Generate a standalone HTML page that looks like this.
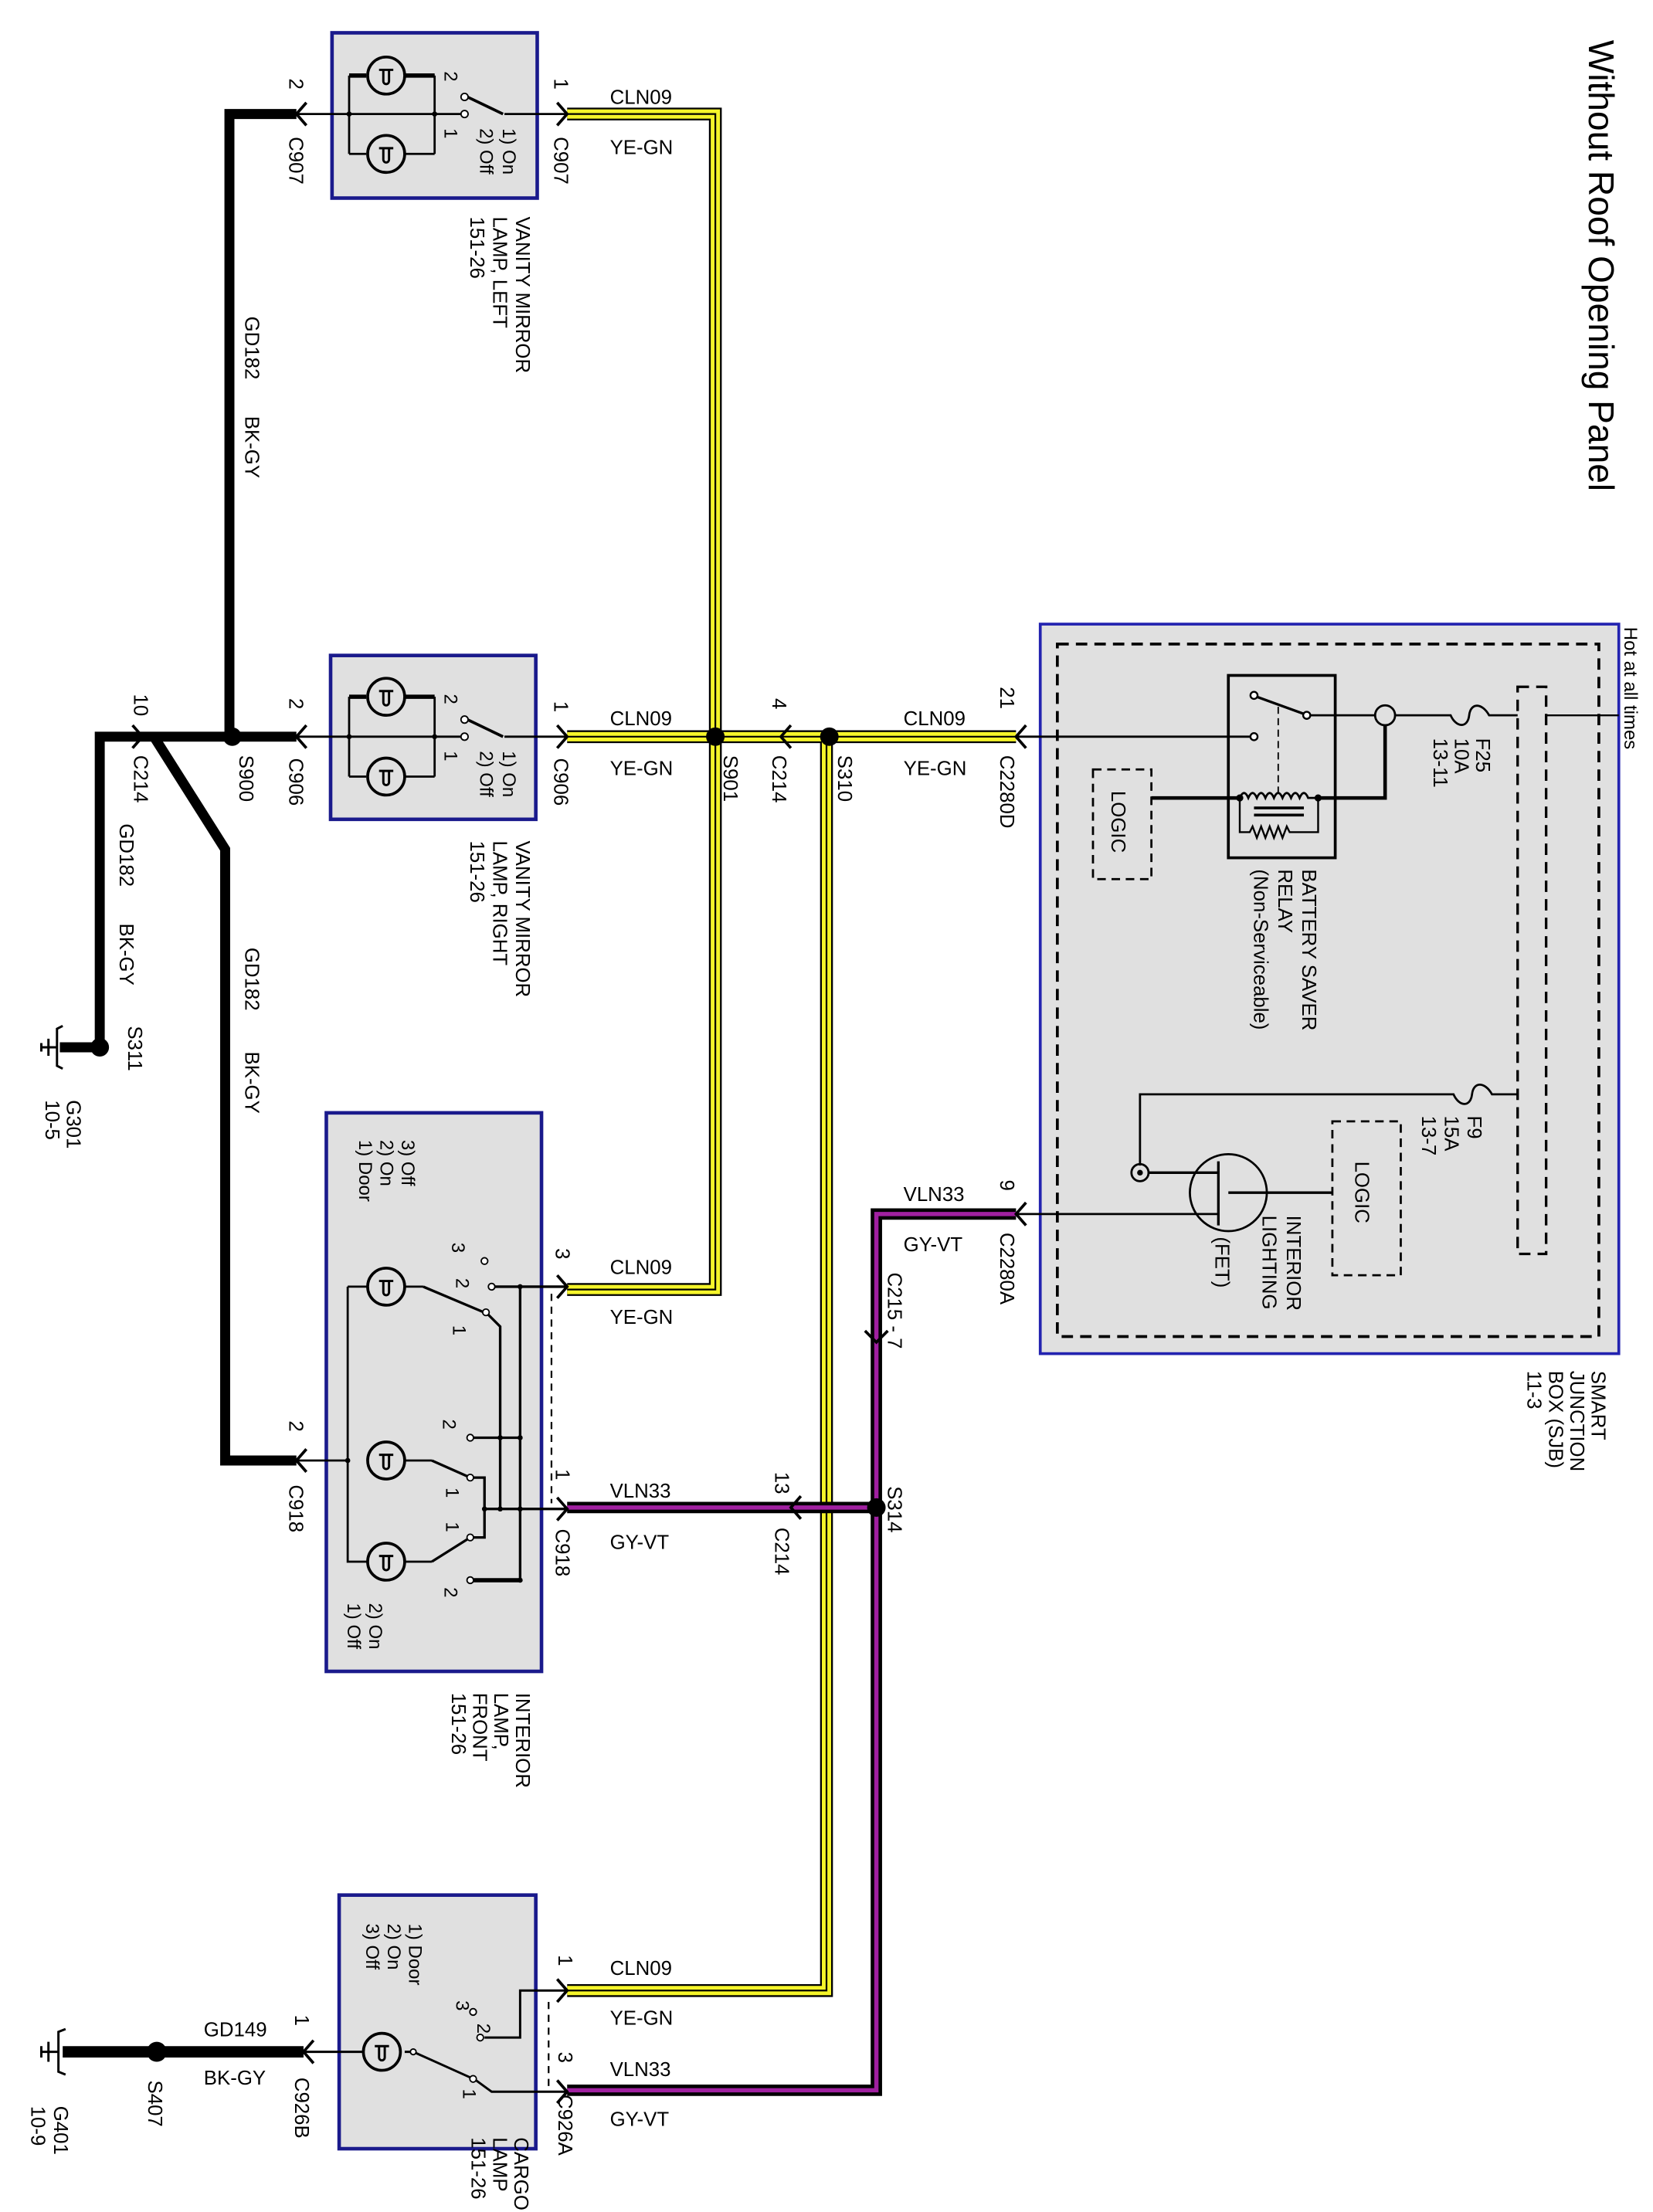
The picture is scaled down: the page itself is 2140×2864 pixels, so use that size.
<!DOCTYPE html>
<html><head><meta charset="utf-8"><style>
html,body{margin:0;padding:0;background:#fff}
svg{display:block}
text{font-family:"Liberation Sans",sans-serif;fill:#000}
.t{font-size:14px}
.s{font-size:13px}
.k{fill:none;stroke:#000}
</style></head><body>
<svg width="2140" height="2864" viewBox="0 0 1160 1552.4" xmlns="http://www.w3.org/2000/svg">
<defs>
<g id="lamp"><circle r="13" fill="none" stroke="#000" stroke-width="2"/><path d="M-5,-4 L5,-4 M-2,-4 L-2,4 M2,-4 L2,4 M-2,4 A2,2 0 0 0 2,4" fill="none" stroke="#000" stroke-width="1.6"/></g>
<g id="ar"><path d="M-7,-8 L0,0 L-7,8" fill="none" stroke="#000" stroke-width="2"/></g>
<g id="al"><path d="M7,-8 L0,0 L7,8" fill="none" stroke="#000" stroke-width="2"/></g>
</defs>

<text font-size="25" transform="translate(1115,28) rotate(90)">Without Roof Opening Panel</text>

<rect x="730" y="438" width="406" height="512" fill="#e0e0e0" stroke="#2323b0" stroke-width="2"/>
<rect x="742" y="452" width="380" height="486" fill="none" stroke="#000" stroke-width="2" stroke-dasharray="8,5"/>
<text class="s" transform="translate(1140,440) rotate(90)">Hot at all times</text>
<line x1="1085" y1="502" x2="1136" y2="502" stroke="#000" stroke-width="1.3"/>
<rect x="1065" y="482" width="20" height="398" fill="none" stroke="#000" stroke-width="1.8" stroke-dasharray="8,5"/>
<path d="M1065,502 L1045,502 C1040,493 1032,493 1031,502 C1030,511 1022,511 1018,502 L979,502" class="k" stroke-width="1.5"/>
<text class="t" transform="translate(1036,518) rotate(90)">F25</text>
<text class="t" transform="translate(1021,518) rotate(90)">10A</text>
<text class="t" transform="translate(1006,518) rotate(90)">13-11</text>
<circle cx="972" cy="502" r="7" fill="none" stroke="#000" stroke-width="1.5"/>
<line x1="965" y1="502" x2="917" y2="502" stroke="#000" stroke-width="1.5"/>
<rect x="862" y="474" width="75" height="128" fill="none" stroke="#000" stroke-width="2"/>
<circle cx="880" cy="488" r="2.5" fill="#fff" stroke="#000" stroke-width="1.3"/>
<circle cx="880" cy="517" r="2.5" fill="#fff" stroke="#000" stroke-width="1.3"/>
<circle cx="917" cy="502" r="2.5" fill="#fff" stroke="#000" stroke-width="1.3"/>
<line x1="882" y1="489" x2="915" y2="501" stroke="#000" stroke-width="1.8"/>
<line x1="897" y1="496" x2="897" y2="558" stroke="#000" stroke-width="1" stroke-dasharray="5,3"/>
<path d="M808,560 L870,560 M925,560 L972,560 L972,509" class="k" stroke-width="2.5"/>
<path d="M870,560 q3,-7 6,0 q3,-7 6,0 q3,-7 6,0 q3,-7 6,0 q3,-7 6,0 q3,-7 6,0 q3,-7 6,0 q3,-7 6,0 L925,560" class="k" stroke-width="1.5"/>
<path d="M880,567 L915,567 M880,572 L915,572" class="k" stroke-width="2"/>
<path d="M870,560 L870,584 L877,584 l2,-4 l3,8 l3,-8 l3,8 l3,-8 l3,8 l3,-8 l3,8 l3,-8 l2,4 L925,584 L925,560" class="k" stroke-width="1.3"/>
<circle cx="870" cy="560" r="2.5" fill="#000"/><circle cx="925" cy="560" r="2.5" fill="#000"/>
<line x1="878" y1="517" x2="713" y2="517" stroke="#000" stroke-width="1.5"/>
<text class="t" transform="translate(914,610) rotate(90)">BATTERY SAVER</text>
<text class="t" transform="translate(897,610) rotate(90)">RELAY</text>
<text class="t" transform="translate(880,610) rotate(90)">(Non-Serviceable)</text>
<rect x="767" y="540" width="41" height="77" fill="none" stroke="#000" stroke-width="1.5" stroke-dasharray="6,4"/>
<text class="t" transform="translate(780,555) rotate(90)">LOGIC</text>
<path d="M1065,768 L1047,768 C1042,759 1034,759 1033,768 C1032,777 1024,777 1020,768 L800,768 L800,818" class="k" stroke-width="1.5"/>
<text class="t" transform="translate(1030,783) rotate(90)">F9</text>
<text class="t" transform="translate(1014,783) rotate(90)">15A</text>
<text class="t" transform="translate(998,783) rotate(90)">13-7</text>
<circle cx="800" cy="823" r="6" fill="none" stroke="#000" stroke-width="1.5"/>
<circle cx="800" cy="823" r="2" fill="#000"/>
<circle cx="862" cy="837" r="27" fill="none" stroke="#000" stroke-width="1.5"/>
<path d="M806,823 L855,823 M855,815 L855,860 M862,837 L935,837" class="k" stroke-width="1.8"/>
<line x1="855" y1="852" x2="713" y2="852" stroke="#000" stroke-width="1.5"/>
<rect x="935" y="787" width="48" height="108" fill="none" stroke="#000" stroke-width="1.5" stroke-dasharray="6,4"/>
<text class="t" transform="translate(951,815) rotate(90)">LOGIC</text>
<text class="t" transform="translate(903,853) rotate(90)">INTERIOR</text>
<text class="t" transform="translate(886,853) rotate(90)">LIGHTING</text>
<text class="t" transform="translate(853,868) rotate(90)">(FET)</text>
<text class="t" transform="translate(1117,962) rotate(90)">SMART</text>
<text class="t" transform="translate(1102,962) rotate(90)">JUNCTION</text>
<text class="t" transform="translate(1087,962) rotate(90)">BOX (SJB)</text>
<text class="t" transform="translate(1072,962) rotate(90)">11-3</text>

<path d="M208,80 L161,80 L161,517 L208,517 M161,517 L70,517 L70,735 L42,735 M108,517 L158,596 L158,1025 L208,1025" fill="none" stroke="#000" stroke-width="7" stroke-linejoin="miter"/>
<path d="M213,1440 L44,1440" stroke="#000" stroke-width="8"/>
<circle cx="163" cy="517" r="6.5" fill="#000"/>
<circle cx="70" cy="735" r="6.5" fill="#000"/>
<circle cx="110" cy="1440" r="7" fill="#000"/>
<path d="M44,720 L40,722 L40,748 L44,750 M34,729 L34,741 M29,732 L29,738 M40,735 L29,735" class="k" stroke-width="1.6"/>
<path d="M46,1424 L41,1426 L41,1454 L46,1456 M34,1433 L34,1447 M29,1436 L29,1444 M41,1440 L29,1440" class="k" stroke-width="1.6"/>
<text class="t" transform="translate(84,578) rotate(90)">GD182</text>
<text class="t" transform="translate(84,648) rotate(90)">BK-GY</text>
<text class="t" transform="translate(172,222) rotate(90)">GD182</text>
<text class="t" transform="translate(172,292) rotate(90)">BK-GY</text>
<text class="t" transform="translate(172,665) rotate(90)">GD182</text>
<text class="t" transform="translate(172,738) rotate(90)">BK-GY</text>
<text class="t" transform="translate(90,720) rotate(90)">S311</text>
<text class="t" transform="translate(47,772) rotate(90)">G301</text>
<text class="t" transform="translate(32,772) rotate(90)">10-5</text>
<text class="t" transform="translate(168,530) rotate(90)">S900</text>
<text class="t" transform="translate(94,487) rotate(90)">10</text>
<text class="t" transform="translate(94,530) rotate(90)">C214</text>
<use href="#ar" x="100" y="517"/>
<text class="t" x="143" y="1429">GD149</text>
<text class="t" x="143" y="1463">BK-GY</text>
<text class="t" transform="translate(104,1460) rotate(90)">S407</text>
<text class="t" transform="translate(38,1478) rotate(90)">G401</text>
<text class="t" transform="translate(22,1478) rotate(90)">10-9</text>

<g fill="none" stroke-linejoin="miter">
<path d="M398,80 L502,80 L502,905 L398,905 M398,517 L713,517 M580,517 L580,1397 L398,1397" stroke="#000" stroke-width="9"/>
<path d="M398,80 L502,80 L502,905 L398,905 M398,517 L713,517 M580,517 L580,1397 L398,1397" stroke="#f5f52a" stroke-width="6.5"/>
<path d="M398,80 L502,80 L502,905 L398,905 M398,517 L713,517 M580,517 L580,1397 L398,1397" stroke="#000" stroke-width="1.2"/>
<path d="M713,852 L615,852 L615,1467 L398,1467 M615,1058 L398,1058" stroke="#000" stroke-width="8"/>
<path d="M713,852 L615,852 L615,1467 L398,1467 M615,1058 L398,1058" stroke="#a020a0" stroke-width="3"/>
</g>
<circle cx="502" cy="517" r="6.5" fill="#000"/>
<circle cx="582" cy="517" r="6.5" fill="#000"/>
<circle cx="615" cy="1058" r="6.5" fill="#000"/>
<use href="#al" x="548" y="517"/>
<use href="#al" x="713" y="517"/>
<use href="#al" x="713" y="852"/>
<use href="#al" x="555" y="1058"/>
<path d="M607,934 L615,942 L623,934" fill="none" stroke="#000" stroke-width="2"/>

<text class="t" x="428" y="73">CLN09</text>
<text class="t" x="428" y="108">YE-GN</text>
<text class="t" x="428" y="509">CLN09</text>
<text class="t" x="428" y="544">YE-GN</text>
<text class="t" x="634" y="509">CLN09</text>
<text class="t" x="634" y="544">YE-GN</text>
<text class="t" x="428" y="894">CLN09</text>
<text class="t" x="428" y="929">YE-GN</text>
<text class="t" x="634" y="843">VLN33</text>
<text class="t" x="634" y="878">GY-VT</text>
<text class="t" x="428" y="1051">VLN33</text>
<text class="t" x="428" y="1087">GY-VT</text>
<text class="t" x="428" y="1386">CLN09</text>
<text class="t" x="428" y="1421">YE-GN</text>
<text class="t" x="428" y="1457">VLN33</text>
<text class="t" x="428" y="1492">GY-VT</text>
<text class="t" transform="translate(508,530) rotate(90)">S901</text>
<text class="t" transform="translate(588,530) rotate(90)">S310</text>
<text class="t" transform="translate(542,490) rotate(90)">4</text>
<text class="t" transform="translate(542,530) rotate(90)">C214</text>
<text class="t" transform="translate(702,482) rotate(90)">21</text>
<text class="t" transform="translate(702,530) rotate(90)">C2280D</text>
<text class="t" transform="translate(702,828) rotate(90)">9</text>
<text class="t" transform="translate(702,865) rotate(90)">C2280A</text>
<text class="t" transform="translate(623,893) rotate(90)">C215 - 7</text>
<text class="t" transform="translate(623,1043) rotate(90)">S314</text>
<text class="t" transform="translate(544,1033) rotate(90)">13</text>
<text class="t" transform="translate(544,1072) rotate(90)">C214</text>

<rect x="233" y="23" width="144" height="116" fill="#e0e0e0" stroke="#1a1a8c" stroke-width="2.5"/>
<g class="k" stroke-width="1.5">
<path d="M208,80 L305,80 M245,53 L245,108 M305,53 L305,108 M245,53 L257,53 M284,53 L305,53 M245,108 L257,108 M284,108 L305,108"/>
<path d="M305,80 L324,80 M354,80 L398,80"/>
<line x1="353" y1="80" x2="328" y2="68" stroke-width="2"/>
</g>
<path d="M245,53 L257,53 M284,53 L305,53" stroke="#000" stroke-width="3"/>
<circle cx="326" cy="80" r="2.5" fill="#fff" stroke="#000"/><circle cx="326" cy="68" r="2.5" fill="#fff" stroke="#000"/>
<circle cx="245" cy="80" r="1.8"/><circle cx="305" cy="80" r="1.8"/>
<use href="#lamp" x="271" y="53"/><use href="#lamp" x="271" y="108"/>
<use href="#al" x="208" y="80"/><use href="#ar" x="398" y="80"/>
<text class="t" transform="translate(203,55) rotate(90)">2</text>
<text class="t" transform="translate(203,96) rotate(90)">C907</text>
<text class="t" transform="translate(389,55) rotate(90)">1</text>
<text class="t" transform="translate(389,96) rotate(90)">C907</text>
<text class="s" transform="translate(312,50) rotate(90)">2</text>
<text class="s" transform="translate(312,90) rotate(90)">1</text>
<text class="s" transform="translate(353,90) rotate(90)">1) On</text>
<text class="s" transform="translate(337,90) rotate(90)">2) Off</text>
<text class="t" transform="translate(362,152) rotate(90)">VANITY MIRROR</text>
<text class="t" transform="translate(346,152) rotate(90)">LAMP, LEFT</text>
<text class="t" transform="translate(330,152) rotate(90)">151-26</text>

<rect x="232" y="460" width="144" height="115" fill="#e0e0e0" stroke="#1a1a8c" stroke-width="2.5"/>
<path d="M208,517 L305,517 M245,489 L245,545 M305,489 L305,545 M245,545 L257,545 M284,545 L305,545 M305,517 L324,517 M354,517 L398,517" class="k" stroke-width="1.5"/>
<path d="M245,489 L257,489 M284,489 L305,489" stroke="#000" stroke-width="3"/>
<line x1="353" y1="517" x2="328" y2="505" stroke="#000" stroke-width="2"/>
<circle cx="326" cy="517" r="2.5" fill="#fff" stroke="#000"/><circle cx="326" cy="505" r="2.5" fill="#fff" stroke="#000"/>
<circle cx="245" cy="517" r="1.8"/><circle cx="305" cy="517" r="1.8"/>
<use href="#lamp" x="271" y="489"/><use href="#lamp" x="271" y="545"/>
<use href="#al" x="208" y="517"/><use href="#ar" x="398" y="517"/>
<text class="t" transform="translate(203,490) rotate(90)">2</text>
<text class="t" transform="translate(203,532) rotate(90)">C906</text>
<text class="t" transform="translate(389,492) rotate(90)">1</text>
<text class="t" transform="translate(389,532) rotate(90)">C906</text>
<text class="s" transform="translate(312,487) rotate(90)">2</text>
<text class="s" transform="translate(312,527) rotate(90)">1</text>
<text class="s" transform="translate(353,527) rotate(90)">1) On</text>
<text class="s" transform="translate(337,527) rotate(90)">2) Off</text>
<text class="t" transform="translate(362,590) rotate(90)">VANITY MIRROR</text>
<text class="t" transform="translate(346,590) rotate(90)">LAMP, RIGHT</text>
<text class="t" transform="translate(330,590) rotate(90)">151-26</text>

<rect x="229" y="781" width="151" height="392" fill="#e0e0e0" stroke="#1a1a8c" stroke-width="2.5"/>
<text class="s" transform="translate(282,800) rotate(90)">3) Off</text>
<text class="s" transform="translate(267,800) rotate(90)">2) On</text>
<text class="s" transform="translate(252,800) rotate(90)">1) Door</text>
<text class="s" transform="translate(259,1125) rotate(90)">2) On</text>
<text class="s" transform="translate(244,1125) rotate(90)">1) Off</text>
<g class="k" stroke-width="1.5">
<path d="M208,1025 L244,1025 M244,903 L258,903 M244,903 L244,1096 L258,1096 M284,903 L297,903 M284,1025 L303,1025 M284,1096 L303,1096"/>
<path d="M297,903 L342,922 L351,931 L351,1059 M345,903 L398,903 M365,903 L365,1109 M330,1009 L365,1009 M303,1025 L330,1037 M330,1037 L340,1037 L340,1079 L330,1079 M303,1096 L330,1079 M340,1059 L398,1059" stroke-width="1.8"/>
<path d="M330,1109 L365,1109" stroke-width="3"/>
<line x1="387" y1="908" x2="387" y2="1055" stroke-dasharray="5,4" stroke-width="1.2"/>
</g>
<circle cx="340" cy="885" r="2.3" fill="#fff" stroke="#000"/>
<circle cx="345" cy="903" r="2.3" fill="#fff" stroke="#000"/>
<circle cx="341" cy="921" r="2.3" fill="#fff" stroke="#000"/>
<circle cx="330" cy="1009" r="2.3" fill="#fff" stroke="#000"/>
<circle cx="330" cy="1037" r="2.3" fill="#fff" stroke="#000"/>
<circle cx="330" cy="1079" r="2.3" fill="#fff" stroke="#000"/>
<circle cx="330" cy="1109" r="2.3" fill="#fff" stroke="#000"/>
<circle cx="244" cy="1025" r="1.8"/><circle cx="365" cy="903" r="1.8"/><circle cx="351" cy="1009" r="1.8"/><circle cx="365" cy="1009" r="1.8"/>
<circle cx="340" cy="1059" r="1.8"/><circle cx="351" cy="1059" r="1.8"/><circle cx="365" cy="1059" r="1.8"/><circle cx="365" cy="1109" r="1.8"/>
<use href="#lamp" x="271" y="903"/><use href="#lamp" x="271" y="1025"/><use href="#lamp" x="271" y="1096"/>
<text class="s" transform="translate(317,872) rotate(90)">3</text>
<text class="s" transform="translate(320,897) rotate(90)">2</text>
<text class="s" transform="translate(318,930) rotate(90)">1</text>
<text class="s" transform="translate(311,996) rotate(90)">2</text>
<text class="s" transform="translate(313,1044) rotate(90)">1</text>
<text class="s" transform="translate(313,1068) rotate(90)">1</text>
<text class="s" transform="translate(312,1114) rotate(90)">2</text>
<use href="#al" x="208" y="1025"/><use href="#ar" x="398" y="903"/><use href="#ar" x="398" y="1059"/>
<text class="t" transform="translate(203,997) rotate(90)">2</text>
<text class="t" transform="translate(203,1042) rotate(90)">C918</text>
<text class="t" transform="translate(390,876) rotate(90)">3</text>
<text class="t" transform="translate(390,1031) rotate(90)">1</text>
<text class="t" transform="translate(390,1073) rotate(90)">C918</text>
<text class="t" transform="translate(362,1188) rotate(90)">INTERIOR</text>
<text class="t" transform="translate(347,1188) rotate(90)">LAMP,</text>
<text class="t" transform="translate(332,1188) rotate(90)">FRONT</text>
<text class="t" transform="translate(317,1188) rotate(90)">151-26</text>

<rect x="238" y="1330" width="138" height="178" fill="#e0e0e0" stroke="#1a1a8c" stroke-width="2.5"/>
<text class="s" transform="translate(287,1350) rotate(90)">1) Door</text>
<text class="s" transform="translate(272,1350) rotate(90)">2) On</text>
<text class="s" transform="translate(257,1350) rotate(90)">3) Off</text>
<g class="k" stroke-width="1.6">
<path d="M213,1440 L255,1440 M284,1440 L290,1440 L330,1458 M334,1460 L345,1468 L398,1468 M340,1430 L365,1430 L365,1397 L398,1397"/>
<line x1="385" y1="1405" x2="385" y2="1465" stroke-dasharray="5,4" stroke-width="1.2"/>
</g>
<circle cx="290" cy="1440" r="2" fill="#fff" stroke="#000"/>
<circle cx="332" cy="1459" r="2.3" fill="#fff" stroke="#000"/>
<circle cx="337" cy="1430" r="2.3" fill="#fff" stroke="#000"/>
<circle cx="332" cy="1412" r="2.3" fill="#fff" stroke="#000"/>
<use href="#lamp" x="268" y="1440"/>
<text class="s" transform="translate(320,1404) rotate(90)">3</text>
<text class="s" transform="translate(335,1420) rotate(90)">2</text>
<text class="s" transform="translate(325,1466) rotate(90)">1</text>
<use href="#al" x="213" y="1440"/><use href="#ar" x="398" y="1397"/><use href="#ar" x="398" y="1468"/>
<text class="t" transform="translate(207,1414) rotate(90)">1</text>
<text class="t" transform="translate(207,1458) rotate(90)">C926B</text>
<text class="t" transform="translate(392,1372) rotate(90)">1</text>
<text class="t" transform="translate(392,1440) rotate(90)">3</text>
<text class="t" transform="translate(392,1470) rotate(90)">C926A</text>
<text class="t" transform="translate(361,1500) rotate(90)">CARGO</text>
<text class="t" transform="translate(346,1500) rotate(90)">LAMP</text>
<text class="t" transform="translate(331,1500) rotate(90)">151-26</text>
</svg>
</body></html>
